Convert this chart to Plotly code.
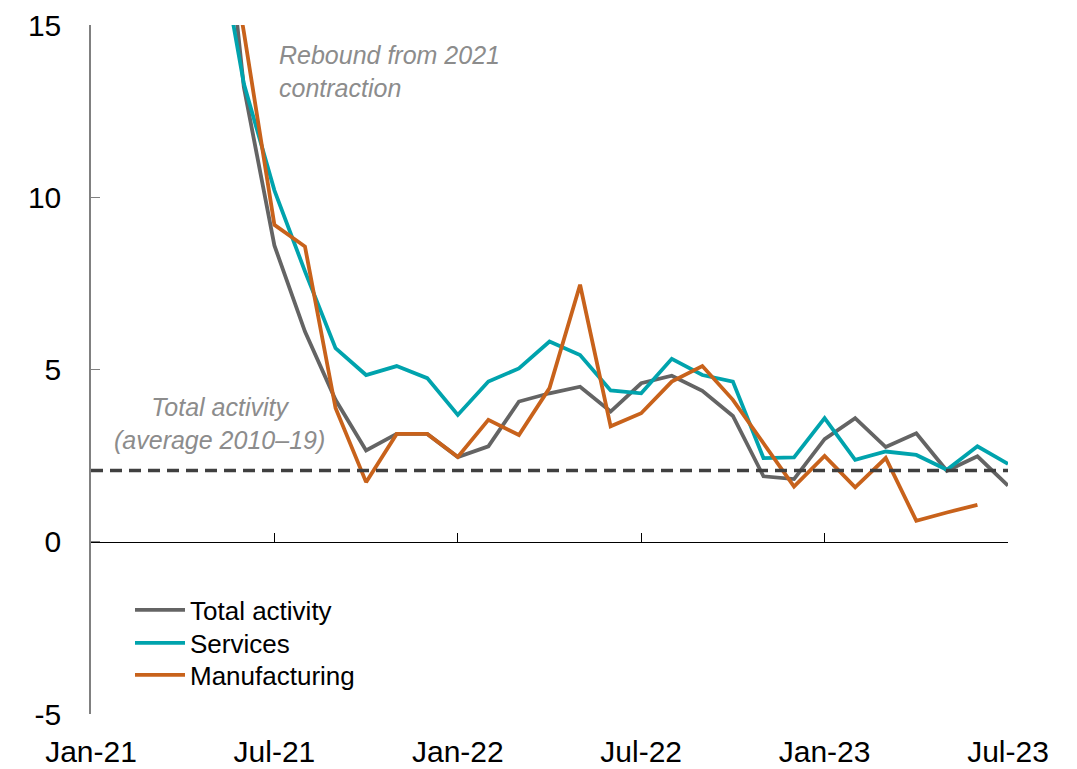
import plotly.graph_objects as go

# ---- data ----
all_months = [f"{m}-{y}" for y in ("21", "22", "23")
              for m in ("Jan", "Feb", "Mar", "Apr", "May", "Jun",
                        "Jul", "Aug", "Sep", "Oct", "Nov", "Dec")][:31]
months = all_months[4:]  # May-21 .. Jul-23

total_activity = [21.6, 13.2, 8.6, 6.1, 4.12, 2.65, 3.13, 3.13, 2.46, 2.77,
                  4.07, 4.31, 4.5, 3.78, 4.6, 4.82, 4.38, 3.65, 1.9, 1.82,
                  2.98, 3.59, 2.75, 3.15, 2.06, 2.48, 1.63]
services = [18.3, 13.3, 10.2, 7.85, 5.62, 4.84, 5.1, 4.75, 3.68, 4.65,
            5.03, 5.81, 5.42, 4.39, 4.31, 5.31, 4.84, 4.65, 2.43, 2.45,
            3.59, 2.38, 2.62, 2.52, 2.09, 2.77, 2.26]
manufacturing = [20.0, 14.8, 9.2, 8.57, 3.88, 1.73, 3.13, 3.13, 2.46, 3.54,
                 3.1, 4.46, 7.46, 3.35, 3.73, 4.65, 5.1, 4.12, 2.86, 1.6,
                 2.49, 1.58, 2.43, 0.61, 0.85, 1.07]
avg_total_2010_19 = 2.07

tick_labels = ["Jan-21", "Jul-21", "Jan-22", "Jul-22", "Jan-23", "Jul-23"]
y_ticks = [-5, 0, 5, 10, 15]
y_tick_text = ["-5", "0", "5", "10", "15"]

GRAY = "#646464"
TEAL = "#00A3AD"
ORANGE = "#C8621B"
FONT = "Arial, Liberation Sans, sans-serif"

fig = go.Figure()

fig.add_trace(go.Scatter(
    x=all_months, y=[avg_total_2010_19] * len(all_months), mode="lines",
    line=dict(color="#404040", width=3.5, dash="12px,7px"), showlegend=False,
    xaxis="x2", hoverinfo="skip"))

fig.add_trace(go.Scatter(x=months, y=total_activity, mode="lines",
                         name="Total activity", legend="legend",
                         line=dict(color=GRAY, width=3.8)))
fig.add_trace(go.Scatter(x=months, y=services, mode="lines",
                         name="Services", legend="legend2",
                         line=dict(color=TEAL, width=3.8)))
fig.add_trace(go.Scatter(x=months[:len(manufacturing)], y=manufacturing, mode="lines",
                         name="Manufacturing", legend="legend3",
                         line=dict(color=ORANGE, width=3.8)))

PLOT_TOP, PLOT_BOTTOM, PLOT_LEFT, PLOT_W = 25, 714, 91, 917
PLOT_H = PLOT_BOTTOM - PLOT_TOP


def py(pix):
    return (PLOT_BOTTOM - pix) / PLOT_H


def px(pix):
    return (pix - PLOT_LEFT) / PLOT_W


legend_common = dict(xanchor="left", yanchor="middle",
                     font=dict(size=26, color="#000000"),
                     bgcolor="rgba(0,0,0,0)", itemwidth=50)

fig.update_layout(
    width=1077, height=769,
    margin=dict(l=91, r=69, t=25, b=55),
    paper_bgcolor="white", plot_bgcolor="white",
    font=dict(family=FONT, size=30, color="#000000"),
    xaxis=dict(
        type="category", categoryorder="array", categoryarray=all_months,
        range=[0, len(all_months) - 1],
        tickvals=tick_labels, ticktext=tick_labels,
        showline=False, ticks="", showgrid=False, zeroline=False,
        tickfont=dict(size=30), ticklabelstandoff=17, automargin=False,
    ),
    xaxis2=dict(
        type="category", categoryorder="array", categoryarray=all_months,
        range=[0, len(all_months) - 1], overlaying="x", anchor="free",
        position=0.25, matches="x",
        tickvals=tick_labels, showticklabels=False,
        showline=True, linecolor="#000000", linewidth=1.3,
        ticks="inside", ticklen=9, tickcolor="#000000", tickwidth=1.3,
        showgrid=False, zeroline=False, automargin=False,
    ),
    yaxis=dict(
        range=[-5, 15], tickvals=y_ticks, ticktext=y_tick_text,
        showline=True, linecolor="#808080", linewidth=1.5,
        ticks="inside", ticklen=9, tickcolor="#808080", tickwidth=1.3,
        showgrid=False, zeroline=False, tickfont=dict(size=30),
        ticklabelstandoff=22, automargin=False,
    ),
    legend=dict(x=px(130), y=py(610), **legend_common),
    legend2=dict(x=px(130), y=py(643), **legend_common),
    legend3=dict(x=px(130), y=py(675), **legend_common),
    annotations=[
        dict(text="Rebound from 2021<br>contraction", xref="paper", yref="paper",
             x=px(277), y=py(39), xanchor="left", yanchor="top",
             align="left", showarrow=False,
             font=dict(size=25, color="#8C8C8C", family=FONT, style="italic")),
        dict(text="Total activity<br>(average 2010–19)", xref="paper", yref="paper",
             x=px(219), y=py(391), xanchor="center", yanchor="top",
             align="center", showarrow=False,
             font=dict(size=25, color="#8C8C8C", family=FONT, style="italic")),
    ],
)

fig.write_html("out.html",
               config={"displayModeBar": False},
               post_script="document.body.style.margin='0';"
                           "document.body.style.padding='0';")
